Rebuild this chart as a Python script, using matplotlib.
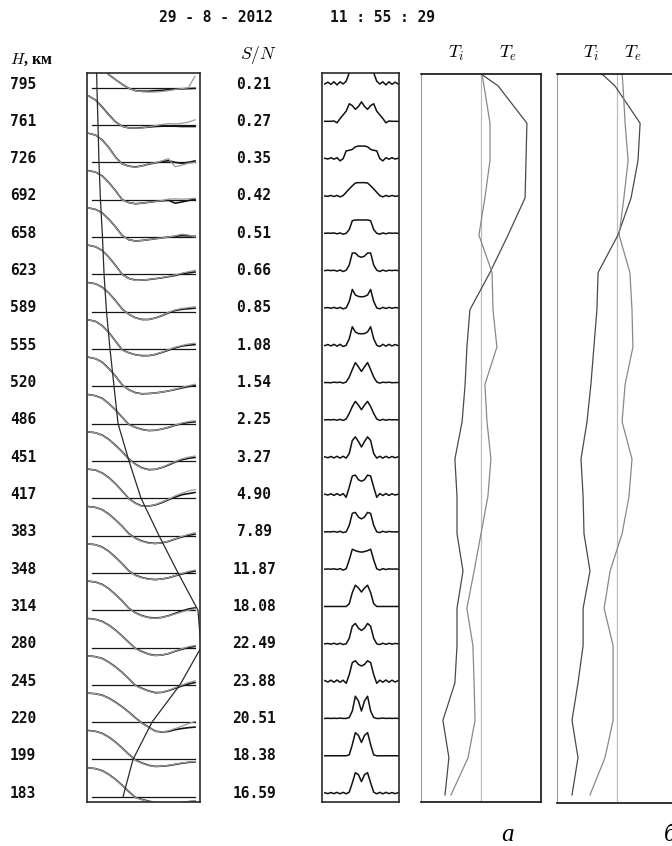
import numpy as np
import matplotlib
matplotlib.use("Agg")
import matplotlib.pyplot as plt
from matplotlib.transforms import blended_transform_factory

plt.rcParams['mathtext.fontset'] = 'cm'

# ---------------- data ----------------
heights = [795, 761, 726, 692, 658, 623, 589, 555, 520, 486,
           451, 417, 383, 348, 314, 280, 245, 220, 199, 183]
snr = [0.21, 0.27, 0.35, 0.42, 0.51, 0.66, 0.85, 1.08, 1.54, 2.25,
       3.27, 4.90, 7.89, 11.87, 18.08, 22.49, 23.88, 20.51, 18.38, 16.59]

# ACF, normalised, 17 lags over the panel width (measured = grey, fit = black)
acf_measured = [
    [1.0, 0.92, 0.7, 0.45, 0.28, 0.12, -0.02, -0.1, -0.14, -0.15, -0.15, -0.13, -0.1, -0.06, -0.03, 0.0, 0.4],
    [1.0, 0.85, 0.6, 0.33, 0.1, -0.04, -0.1, -0.11, -0.1, -0.06, -0.02, 0.02, 0.05, 0.04, 0.06, 0.1, 0.18],
    [1.0, 0.94, 0.76, 0.5, 0.17, -0.05, -0.13, -0.17, -0.12, -0.05, -0.01, 0.05, 0.13, -0.15, -0.1, -0.03, 0.0],
    [1.0, 0.95, 0.81, 0.58, 0.3, -0.01, -0.1, -0.14, -0.12, -0.09, -0.06, -0.03, 0.02, 0.03, 0.02, 0.03, 0.05],
    [1.0, 0.95, 0.82, 0.6, 0.34, 0.04, -0.09, -0.14, -0.12, -0.09, -0.06, -0.03, 0.0, 0.04, 0.1, 0.07, 0.0],
    [1.0, 0.95, 0.81, 0.58, 0.3, -0.01, -0.14, -0.21, -0.2, -0.17, -0.15, -0.11, -0.07, -0.02, 0.04, 0.09, 0.14],
    [1.0, 0.96, 0.83, 0.63, 0.37, 0.08, -0.09, -0.21, -0.28, -0.27, -0.22, -0.13, -0.02, 0.06, 0.11, 0.14, 0.17],
    [1.0, 0.95, 0.79, 0.56, 0.26, -0.04, -0.13, -0.2, -0.24, -0.23, -0.18, -0.11, -0.02, 0.06, 0.12, 0.17, 0.2],
    [1.0, 0.95, 0.82, 0.6, 0.34, 0.04, -0.12, -0.23, -0.26, -0.25, -0.23, -0.2, -0.16, -0.1, -0.04, 0.02, 0.07],
    [1.0, 0.96, 0.86, 0.68, 0.46, 0.21, -0.04, -0.13, -0.21, -0.24, -0.23, -0.19, -0.12, -0.05, 0.02, 0.07, 0.1],
    [1.0, 0.97, 0.88, 0.73, 0.53, 0.31, 0.06, -0.12, -0.25, -0.31, -0.29, -0.22, -0.12, -0.02, 0.07, 0.13, 0.17],
    [1.0, 0.97, 0.86, 0.7, 0.49, 0.24, -0.02, -0.18, -0.28, -0.27, -0.22, -0.13, -0.03, 0.08, 0.17, 0.25, 0.3],
    [1.0, 0.97, 0.88, 0.73, 0.53, 0.31, 0.06, -0.1, -0.2, -0.26, -0.28, -0.25, -0.19, -0.11, -0.03, 0.04, 0.1],
    [1.0, 0.97, 0.88, 0.73, 0.53, 0.31, 0.06, -0.09, -0.17, -0.22, -0.24, -0.21, -0.16, -0.09, -0.02, 0.05, 0.1],
    [1.0, 0.97, 0.88, 0.73, 0.53, 0.31, 0.06, -0.1, -0.2, -0.26, -0.28, -0.25, -0.2, -0.13, -0.06, 0.0, 0.05],
    [1.0, 0.97, 0.89, 0.76, 0.59, 0.39, 0.17, -0.04, -0.15, -0.24, -0.28, -0.26, -0.2, -0.12, -0.04, 0.03, 0.07],
    [1.0, 0.97, 0.9, 0.77, 0.61, 0.42, 0.2, -0.03, -0.13, -0.22, -0.28, -0.26, -0.19, -0.1, -0.01, 0.08, 0.14],
    [1.0, 0.98, 0.92, 0.82, 0.68, 0.52, 0.34, 0.14, -0.04, -0.18, -0.32, -0.34, -0.3, -0.22, -0.14, -0.05, 0.03],
    [1.0, 0.97, 0.89, 0.76, 0.59, 0.39, 0.17, -0.03, -0.13, -0.21, -0.24, -0.23, -0.2, -0.16, -0.12, -0.09, -0.07],
    [1.0, 0.97, 0.89, 0.76, 0.59, 0.39, 0.17, -0.03, -0.1, -0.16, -0.2, -0.24, -0.24, -0.22, -0.19, -0.16, -0.14],
]
acf_fit = [
    [1.0, 0.92, 0.7, 0.45, 0.28, 0.12, -0.02, -0.1, -0.12, -0.12, -0.1, -0.09, -0.07, -0.05, -0.04, -0.03, -0.02],
    [1.0, 0.86, 0.62, 0.35, 0.11, -0.04, -0.1, -0.11, -0.09, -0.07, -0.05, -0.04, -0.04, -0.04, -0.05, -0.05, -0.05],
    [1.0, 0.94, 0.77, 0.51, 0.18, -0.05, -0.13, -0.16, -0.12, -0.06, -0.02, 0.03, 0.06, 0.0, -0.03, 0.0, 0.05],
    [1.0, 0.95, 0.82, 0.59, 0.31, 0.0, -0.1, -0.14, -0.12, -0.09, -0.06, -0.04, -0.02, -0.12, -0.08, -0.03, 0.02],
    [1.0, 0.95, 0.83, 0.61, 0.35, 0.05, -0.09, -0.14, -0.12, -0.09, -0.06, -0.03, 0.0, 0.02, 0.05, 0.04, 0.02],
    [1.0, 0.95, 0.82, 0.59, 0.31, 0.0, -0.14, -0.2, -0.2, -0.18, -0.15, -0.12, -0.08, -0.04, 0.02, 0.05, 0.08],
    [1.0, 0.96, 0.84, 0.64, 0.38, 0.09, -0.09, -0.21, -0.27, -0.27, -0.22, -0.14, -0.04, 0.04, 0.08, 0.1, 0.12],
    [1.0, 0.95, 0.8, 0.57, 0.27, -0.03, -0.13, -0.2, -0.23, -0.23, -0.19, -0.12, -0.04, 0.04, 0.1, 0.13, 0.15],
    [1.0, 0.95, 0.83, 0.61, 0.35, 0.05, -0.12, -0.22, -0.26, -0.25, -0.23, -0.2, -0.16, -0.11, -0.06, -0.01, 0.03],
    [1.0, 0.96, 0.87, 0.69, 0.47, 0.22, -0.03, -0.13, -0.2, -0.24, -0.23, -0.19, -0.13, -0.06, 0.0, 0.04, 0.06],
    [1.0, 0.97, 0.89, 0.74, 0.54, 0.32, 0.07, -0.11, -0.24, -0.3, -0.29, -0.23, -0.14, -0.04, 0.04, 0.09, 0.12],
    [1.0, 0.97, 0.87, 0.71, 0.5, 0.25, -0.01, -0.17, -0.27, -0.27, -0.23, -0.15, -0.05, 0.04, 0.12, 0.16, 0.2],
    [1.0, 0.97, 0.89, 0.74, 0.54, 0.32, 0.07, -0.09, -0.19, -0.25, -0.27, -0.25, -0.2, -0.12, -0.05, 0.01, 0.05],
    [1.0, 0.97, 0.89, 0.74, 0.54, 0.32, 0.07, -0.08, -0.16, -0.21, -0.23, -0.21, -0.17, -0.1, -0.04, 0.02, 0.06],
    [1.0, 0.97, 0.89, 0.74, 0.54, 0.32, 0.07, -0.09, -0.19, -0.25, -0.27, -0.25, -0.19, -0.11, -0.03, 0.04, 0.08],
    [1.0, 0.97, 0.9, 0.77, 0.6, 0.4, 0.18, -0.03, -0.14, -0.23, -0.27, -0.26, -0.21, -0.13, -0.06, 0.0, 0.04],
    [1.0, 0.97, 0.91, 0.78, 0.62, 0.43, 0.21, -0.02, -0.12, -0.21, -0.27, -0.26, -0.2, -0.12, -0.04, 0.03, 0.08],
    [1.0, 0.98, 0.93, 0.83, 0.69, 0.53, 0.35, 0.15, -0.03, -0.17, -0.31, -0.34, -0.32, -0.26, -0.22, -0.19, -0.17],
    [1.0, 0.97, 0.9, 0.77, 0.6, 0.4, 0.18, -0.02, -0.12, -0.2, -0.24, -0.23, -0.21, -0.17, -0.13, -0.1, -0.08],
    [1.0, 0.97, 0.9, 0.77, 0.6, 0.4, 0.18, -0.02, -0.09, -0.15, -0.2, -0.23, -0.24, -0.23, -0.2, -0.17, -0.15],
]

# relative profile drawn across the ACF panel (first value = panel top)
ne_profile = [0.072, 0.075, 0.085, 0.094, 0.108, 0.127, 0.142, 0.165, 0.198, 0.236, 0.274,
              0.377, 0.491, 0.660, 0.840, 1.028, 1.057, 0.858, 0.594, 0.415, 0.321]

# half spectra (centre -> edge, 13 frequency bins), mirrored
spec_half = [
    [2.0, 2.0, 1.9, 1.5, 0.6, 0.15, 0.0, 0.12, -0.05, 0.12, -0.02, 0.1, 0.0],
    [1.05, 0.8, 0.65, 0.85, 0.95, 0.55, 0.35, 0.15, -0.08, 0.02, 0.0, 0.0, 0.0],
    [0.68, 0.68, 0.64, 0.5, 0.45, 0.42, 0.0, -0.12, 0.05, -0.03, 0.05, -0.02, 0.02],
    [0.72, 0.72, 0.7, 0.55, 0.38, 0.2, 0.02, -0.05, 0.03, -0.03, 0.03, -0.02, 0.0],
    [0.72, 0.72, 0.72, 0.68, 0.2, 0.0, -0.05, 0.02, -0.03, 0.02, 0.0, 0.01, 0.0],
    [0.72, 0.78, 0.95, 0.95, 0.3, 0.02, -0.05, 0.03, -0.03, 0.02, 0.0, 0.02, 0.0],
    [0.6, 0.62, 0.7, 1.0, 0.35, 0.0, -0.05, 0.03, -0.03, 0.03, -0.02, 0.02, 0.0],
    [0.62, 0.63, 0.72, 1.0, 0.35, 0.0, -0.07, 0.05, -0.05, 0.05, -0.04, 0.04, -0.02],
    [0.6, 0.85, 1.08, 0.7, 0.3, 0.03, -0.03, 0.02, 0.0, 0.02, -0.01, 0.0, 0.0],
    [0.55, 0.8, 1.0, 0.72, 0.35, 0.05, -0.03, 0.03, -0.02, 0.02, 0.0, 0.01, 0.0],
    [0.55, 0.85, 1.1, 0.9, 0.2, -0.05, 0.05, -0.05, 0.05, -0.04, 0.04, -0.03, 0.02],
    [0.72, 0.8, 1.05, 1.0, 0.4, -0.15, 0.05, -0.05, 0.05, -0.05, 0.04, -0.03, 0.02],
    [0.7, 0.8, 1.05, 1.0, 0.35, 0.0, -0.04, 0.03, -0.02, 0.02, 0.0, 0.0, 0.0],
    [0.92, 0.95, 1.0, 1.08, 0.5, 0.02, -0.05, 0.03, -0.02, 0.02, 0.0, 0.01, 0.0],
    [0.78, 1.0, 1.15, 0.75, 0.15, 0.0, 0.0, 0.0, 0.0, 0.0, 0.0, 0.0, 0.0],
    [0.72, 0.85, 1.1, 0.95, 0.3, 0.0, -0.04, 0.03, -0.03, 0.03, -0.02, 0.02, 0.0],
    [0.82, 0.9, 1.1, 1.0, 0.35, -0.12, 0.05, -0.06, 0.06, -0.06, 0.05, -0.05, 0.03],
    [0.4, 0.95, 1.2, 0.4, 0.05, 0.0, 0.0, 0.02, 0.0, 0.01, 0.0, 0.01, 0.0],
    [0.72, 1.1, 1.25, 0.6, 0.05, 0.0, 0.0, 0.0, 0.0, 0.0, 0.0, 0.0, 0.0],
    [0.62, 1.0, 1.1, 0.55, 0.05, -0.04, 0.04, -0.04, 0.04, -0.03, 0.03, -0.03, 0.02],
]

# temperature profiles, K (first value = panel top, then one per height)
ti_a = [2000, 2570, 3530, 3500, 3470, 2900, 2300, 1630, 1530, 1470, 1370,
        1130, 1200, 1200, 1400, 1200, 1200, 1130, 730, 930, 800]
te_a = [2030, 2100, 2300, 2300, 2130, 1930, 2370, 2400, 2530, 2130, 2200,
        2330, 2230, 2000, 1770, 1530, 1730, 1770, 1800, 1570, 1000]
ti_b = [1500, 1930, 2770, 2700, 2470, 2030, 1370, 1330, 1230, 1130, 1000,
        800, 870, 900, 1100, 870, 870, 700, 500, 700, 500]
te_b = [2170, 2200, 2270, 2370, 2230, 2070, 2430, 2500, 2530, 2270, 2170,
        2500, 2400, 2170, 1770, 1570, 1870, 1870, 1870, 1600, 1100]
T_MID = 2000
T_RANGE = (0, 4000)

date_str = "29 - 8 - 2012"
time_str = "11 : 55 : 29"

# ---------------- layout ----------------
W, H = 672, 846
ROW0, ROWSTEP = 84.0, 37.32          # pixel y of first row label, row spacing
ACF_AMP = 29 / ROWSTEP
SPEC_AMP = 18.5 / ROWSTEP

fig = plt.figure(figsize=(W / 100, H / 100), dpi=100)
fig.patch.set_facecolor('white')


def add_ax(x0, y0, x1, y1):
    ax = fig.add_axes([x0 / W, 1 - y1 / H, (x1 - x0) / W, (y1 - y0) / H])
    ax.set_xticks([])
    ax.set_yticks([])
    ax.set_ylim((y1 - ROW0) / ROWSTEP, (y0 - ROW0) / ROWSTEP)
    return ax


rows = np.arange(len(heights))

# ACF panel
ax_acf = add_ax(87, 73, 200, 802)
ax_acf.set_xlim(-2 / 106, 111 / 106)
lags = np.linspace(0, 1, len(acf_measured[0]))
for i in rows:
    base = i + 0.1
    ax_acf.plot([0.03, 1.0], [base, base], color='#151515', lw=0.9)
    ax_acf.plot(lags, base - ACF_AMP * np.array(acf_fit[i]), color='#151515', lw=1.2)
    ax_acf.plot(lags, base - ACF_AMP * np.array(acf_measured[i]), color='#999999', lw=0.9)
top_acf = ax_acf.get_ylim()[1]
ax_acf.plot(ne_profile, np.r_[top_acf, rows + 0.1], color='#2a2a2a', lw=0.9)
for s in ax_acf.spines.values():
    s.set_color('#2a2a2a'); s.set_linewidth(1.2)

# spectra panel
ax_sp = add_ax(321.5, 73, 398.5, 802)
ax_sp.set_xlim(-1.09, 1.01)
freq = np.linspace(-1, 1, 2 * len(spec_half[0]) - 1)
for i in rows:
    h = np.array(spec_half[i])
    full = np.r_[h[::-1], h[1:]]
    ax_sp.plot(freq, i - SPEC_AMP * full, color='#111111', lw=1.1)
for s in ax_sp.spines.values():
    s.set_color('#2a2a2a'); s.set_linewidth(1.2)


def temp_panel(x0, y0, x1, y1, ti, te):
    ax = add_ax(x0, y0, x1, y1)
    ax.set_xlim(*T_RANGE)
    top = ax.get_ylim()[1]
    yy = np.r_[top, rows + 0.05]
    ax.axvline(T_MID, color='#bdbdbd', lw=0.9)
    ax.plot(ti, yy, color='#4a4a4a', lw=0.9)
    ax.plot(te, yy, color='#888888', lw=0.9)
    for k in ('top', 'right', 'bottom'):
        ax.spines[k].set_color('#111111'); ax.spines[k].set_linewidth(1.2)
    ax.spines['left'].set_color('#9a9a9a'); ax.spines['left'].set_linewidth(0.8)
    return ax


ax_ta = temp_panel(421, 74, 541, 802, ti_a, te_a)
ax_tb = temp_panel(557, 74, 677, 803, ti_b, te_b)

# ---------------- text ----------------
mono = dict(family='DejaVu Sans Mono', fontweight='bold', fontsize=10.5, color='#111111')
tr = blended_transform_factory(fig.transFigure, ax_acf.transData)
for i, (hh, sn) in enumerate(zip(heights, snr)):
    fig.text(10 / W, i, str(hh), transform=tr, ha='left', va='center', **mono)
    fig.text(254 / W, i, f"{sn:.2f}", transform=tr, ha='center', va='center', **mono)

fig.text(216 / W, 1 - 17 / H, date_str, ha='center', va='center', **mono)
fig.text(382 / W, 1 - 17 / H, time_str, ha='center', va='center', **mono)

fig.text(10 / W, 1 - 60 / H, r'$H$, км', ha='left', va='center',
         family='Liberation Serif', fontweight='bold', fontsize=11.5)
fig.text(258 / W, 1 - 55 / H, r'$S/N$', ha='center', va='center', fontsize=12.5)
for xp, lab in [(456, r'$T_i$'), (508, r'$T_e$'), (591, r'$T_i$'), (633, r'$T_e$')]:
    fig.text(xp / W, 1 - 53 / H, lab, ha='center', va='center', fontsize=13)

fig.text(507 / W, 1 - 835 / H, 'a', ha='center', va='center',
         family='Liberation Serif', style='italic', fontsize=18)
# the reference figure is cropped through this panel label
fig.text(664 / W, 1 - 835 / H, 'б', ha='left', va='center',
         family='Liberation Serif', style='italic', fontsize=18)

fig.savefig('out.png', dpi=100, facecolor='white')
